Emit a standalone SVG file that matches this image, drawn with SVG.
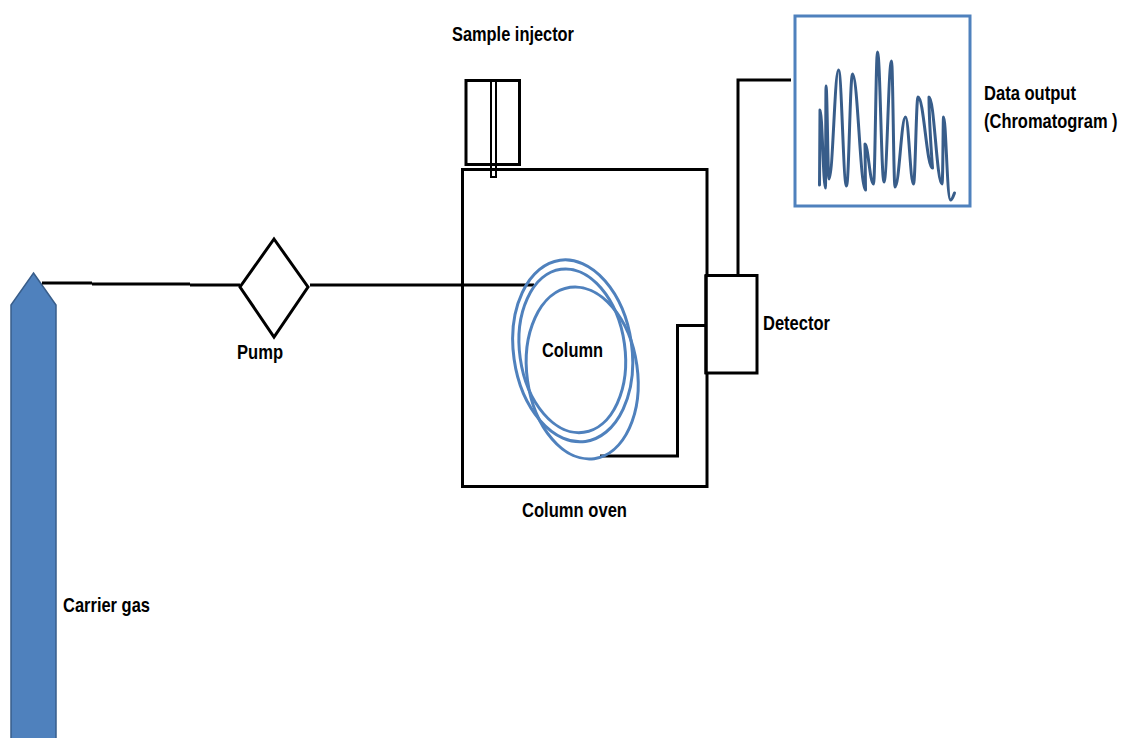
<svg xmlns="http://www.w3.org/2000/svg" width="1121" height="738" viewBox="0 0 1121 738">
<style>
.k{fill:none;stroke:#000;stroke-width:3}
.w{fill:#fff;stroke:#000;stroke-width:3}
.c{fill:none;stroke:#4f81bd;stroke-width:3}
text{font-family:"Liberation Sans",Arial,sans-serif;font-weight:700;font-size:21px;fill:#000}
</style>
<rect width="1121" height="738" fill="#fff"/>
<g id="carrier-gas">
<path d="M33.500 273L56 305V739H11V305Z" fill="#4f81bd" stroke="#385d8a" stroke-width="1.500"/>
<text x="63" y="612" textLength="87" lengthAdjust="spacingAndGlyphs">Carrier gas</text>
</g>
<g id="column-oven">
<rect class="k" x="462.500" y="169.500" width="244.500" height="317"/>
<text x="522" y="517" textLength="105" lengthAdjust="spacingAndGlyphs">Column oven</text>
</g>
<g id="connectors">
<path class="k" d="M42 283H92M92 284H190M190 285H240"/>
<path class="k" d="M310 285H534"/>
<path class="k" d="M600 456H677.500V325.500H706"/>
<path class="k" d="M738 275V80H791"/>
</g>
<g id="pump">
<path class="w" d="M274 239L308 287L274 337L240 287Z"/>
<text x="237" y="359" textLength="46" lengthAdjust="spacingAndGlyphs">Pump</text>
</g>
<g id="sample-injector">
<rect class="k" x="466" y="80.500" width="53.500" height="84"/>
<rect x="491" y="81" width="5" height="96" fill="none" stroke="#000" stroke-width="2"/>
<text x="452" y="41" textLength="122" lengthAdjust="spacingAndGlyphs">Sample injector</text>
</g>
<g id="column">
<ellipse class="c" cx="572.700" cy="350.800" rx="59.200" ry="91.500" transform="rotate(-8 572.700 350.800)"/>
<ellipse class="c" cx="572.300" cy="350.800" rx="52.600" ry="82.300" transform="rotate(-8 572.300 350.800)"/>
<ellipse class="c" cx="582.200" cy="373" rx="55.200" ry="86.500" transform="rotate(-8 582.200 373)"/>
<text x="542" y="357" textLength="61" lengthAdjust="spacingAndGlyphs">Column</text>
</g>
<g id="detector">
<rect class="w" x="706" y="275.500" width="51" height="97.500"/>
<path d="M706 275V374" stroke="#000" stroke-width="3" fill="none"/>
<text x="763" y="330" textLength="67" lengthAdjust="spacingAndGlyphs">Detector</text>
</g>
<g id="data-output">
<rect x="795" y="16" width="175" height="190" fill="#fff" stroke="#4f81bd" stroke-width="3"/>
<path fill="none" stroke="#385d8a" stroke-width="3" stroke-linejoin="round" stroke-linecap="round" d="M819.500 185L820 110C822.200 110 823.300 188 825.500 188C825.700 188 825.800 86 826 86C827.200 86 827.800 179 829 179C832.800 179 834.700 70 838.500 70C841.700 70 843.300 186 846.500 186C848.900 186 850.100 74 852.500 74C857.700 74 860.300 190 865.500 190L865 144C868 144 870 184 873.500 184C875.100 184 875.900 52 877.500 52C880.100 52 881.400 182 884 182C887 182 888.500 61 891.500 61C892.900 61 893.600 187 895 187C899.200 187 901.300 117 905.500 117C908.700 117 910.300 184 913.500 184C915.300 184 916.200 97 918 97C923.800 97 926.700 168 932.500 168C932.500 168 929 120 929 97C934.200 97 936.800 184 942 184C943 184 943 117 943.500 117C946 117 947 200 950.500 200C952 200 953 197 954.500 193"/>
<text x="984" y="100" textLength="92" lengthAdjust="spacingAndGlyphs">Data output</text>
<text transform="translate(984 128) scale(.785 1)">(Chromatogram )</text>
</g>
</svg>
